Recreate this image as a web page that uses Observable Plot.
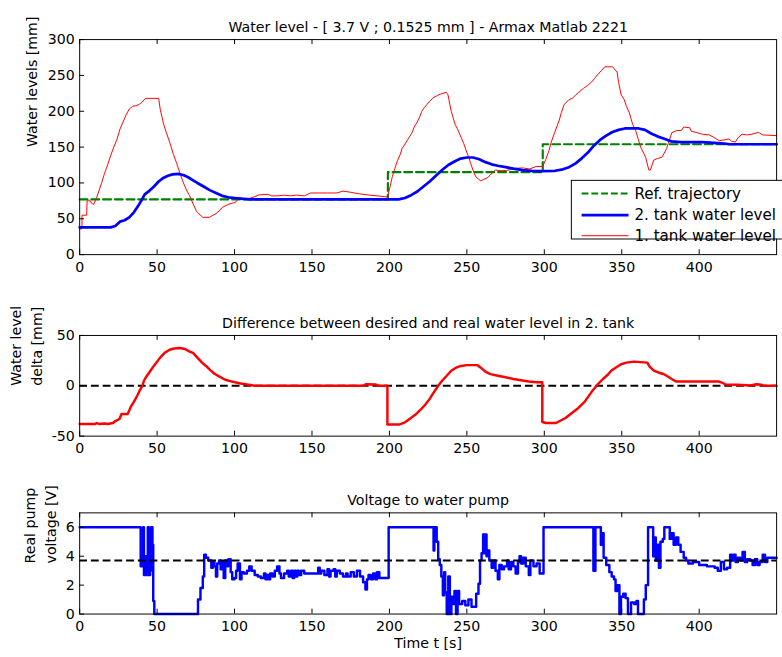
<!DOCTYPE html>
<html><head><meta charset="utf-8">
<script src="https://cdn.jsdelivr.net/npm/d3@7"></script>
<script src="https://cdn.jsdelivr.net/npm/@observablehq/plot@0.6"></script>
<style>
body{margin:0;background:#fff;}
#wrap{position:relative;width:782px;height:657px;overflow:hidden;background:#fff;}
#wrap svg{position:absolute;left:0;}
</style></head><body><div id="wrap"></div>
<script>
// ---------- data ----------
const xTicks = [0, 50, 100, 150, 200, 250, 300, 350, 400];
const levelTicks = [0, 50, 100, 150, 200, 250, 300];
const deltaTicks = [-50, 0, 50];
const voltTicks = [0, 2, 4, 6];

const titles = [
  "Water level - [ 3.7 V ; 0.1525 mm ] - Armax Matlab 2221",
  "Difference between desired and real water level in 2. tank",
  "Voltage to water pump"
];
const yLabels = ["Water levels [mm]", "Water level\ndelta [mm]", "Real pump\nvoltage [V]"];
const xLabel = "Time t [s]";
const legendLabels = ["Ref. trajectory", "2. tank water level", "1. tank water level"];

const refTrajectory = [[0, 77], [199, 115], [299, 154], [450, 154]];
const pumpRef = 3.7;

const tank2 = [[0,38],[20,38],[23,40],[26,46],[29,48],[32,52],[35,59],[37.5,67],[40,76],[42,84],[45,89],[48,95],[51,102],[54,107],[57,110],[60,112],[64,112.5],[67,111],[70,108],[73,104],[76,100],[80,95],[84,90],[88,86],[92,82],[96,80],[100,79],[104,78],[110,77],[199,77],[206,77],[210,79],[214,83],[218,88],[222,95],[226,102],[230,110],[234,118],[238,125],[242,130],[246,134],[250,135.5],[254,135.5],[258,133],[262,129],[266,126],[270,124],[275,122],[280,120],[286,118],[292,117],[298,116.5],[307,117],[312,119],[316,122],[320,127],[324,134],[328,142],[332,152],[336,160],[340,166],[344,171],[348,174],[352,176],[357,176],[361,176],[365,174],[369,169],[373,165],[377,162],[382,158],[388,157],[395,157],[402,157],[410,156],[416,155],[420,154],[450,154]];

const tank1 = [[0,36],[1.5,36],[1.5,55],[4.5,55],[4.8,75],[7,75],[7.5,72],[9,70],[11,80],[12,86],[14,99],[16,113],[18,125],[20,138],[22,150],[24,160],[26,175],[28,185],[30,195],[32,203],[34.2,207],[37,208],[39.4,211],[42.6,218],[51,218],[52,203],[54.2,182],[56,170],[58.4,155],[60.5,140],[62.7,127],[65,112],[67,100],[69,90],[71,82],[72,77],[73,72],[75.3,61],[77,57],[79.5,52],[83.7,52],[86,55],[88,57],[90,61],[92.2,66],[94,68],[96.4,70.5],[100.6,73],[102,77],[103.8,79.6],[106,78],[109,78],[112,80],[115.4,83],[119,84],[121.7,84],[124,82],[128,82],[132,83],[136,82],[140,83],[145,82],[149,86],[155,86],[160,86],[166,86],[170,88.6],[175,87],[180,85],[187,83],[192,82],[198.8,80.5],[200.2,93],[201.9,109],[203.5,120],[205,130],[207,140],[208.2,148],[211.4,159],[214.6,170],[216,178],[217.7,184],[219.5,192],[220.9,200],[222.5,205],[224,209],[226,214],[228.3,219],[231,222],[233,224],[236.7,226.5],[237.8,223],[239,210],[239.9,200],[242.4,182],[244,175],[246.2,164],[248,155],[249.4,146],[251,137],[252.5,127],[254.6,114],[256,108],[258.9,103],[261,105],[263.1,107],[265,111],[268.4,118],[272,117],[275.8,117.5],[279,119],[282,120.5],[286,121],[290.5,119.5],[294.7,123],[299,123],[301,133],[303,145],[304.5,157],[306.3,168],[308,178],[309.5,186.5],[311,198],[312.7,209],[315.8,216],[318,218],[320,222],[322,226],[325.3,232],[328,236],[330.6,241],[332.5,246],[334.8,252],[337,257],[339,262],[342,262],[344,262],[347,254.7],[348,240],[349.6,223],[351.7,216],[353,207],[354.9,198],[357,182],[359,173],[360.5,162],[362.2,150],[365.4,136],[367.5,118],[368.5,118],[370.7,132],[373,134],[376,136],[379,148],[380,155],[382.3,170],[385.4,173],[388.6,173.5],[390,178],[393.9,177],[395,172],[398,170.5],[402,168],[406.5,167],[410,163],[412.9,159],[416,160],[419.2,161.4],[421,158],[423.4,157],[425,163],[427.7,168],[431,167],[434,168],[438.2,170.5],[441,167],[450,166]];

const delta = [[0,-38],[10,-38],[11,-37],[13,-38],[16,-37.5],[18,-38],[21.5,-37],[23,-35],[25.7,-33],[27,-28],[31,-28],[33,-21],[35,-16],[37.3,-9.4],[39,-4],[40.5,0],[41.5,5],[43,9],[45.7,15],[48,20],[50,24],[52,28],[55,33],[58.4,36],[61,37],[64.7,37.5],[68,36.5],[71,34],[73.2,32.7],[76,28],[79,23],[81.6,19.7],[84,16],[87,12],[90,9.4],[94,6],[98.5,4.2],[103,2.5],[109,1],[113,0],[183,0],[185,1.6],[191,1.3],[193.5,0],[198.7,0],[198.7,-38.5],[206,-38.5],[208,-37.5],[210.3,-36],[213,-33],[216.7,-28.8],[220,-24],[223,-19],[226,-13],[228,-8],[231.5,0],[234,5],[237,10],[239.9,15],[243,18],[246.2,19.7],[250,20.5],[256.8,20.5],[259,18],[262,14],[265.2,11.6],[270,10],[275,8.5],[280,6.8],[285,5.5],[290,4.2],[294.7,3.6],[298.7,3.6],[298.7,-36],[301,-37],[307.4,-37],[310,-35],[313.7,-32],[317,-28],[322,-22],[326,-16],[330.6,-6],[334.8,2],[338,7],[341,11],[343.2,15],[346,18],[349.6,21.4],[353,23],[358,24],[362,23.5],[366.5,23],[368,19],[370.7,15],[374,13],[377,11.7],[380,9],[383,6],[385.4,4.2],[412.9,4.2],[415,3],[417,1.3],[425,1],[433,0.3],[437,1.5],[440,1],[442,0],[450,0]];

const voltage = [[0,6],[39.4,3.3],[40,4],[40.6,3.3],[41,6],[41.5,2.7],[42.5,4],[43,2.7],[44,6],[44.6,2.7],[45.5,3],[46,6],[47,4.8],[47.5,0.9],[48.2,0],
[76.4,1],[78,1.8],[79.5,2.6],[80.4,4.1],[81.5,3.9],[83,3.7],[85,3.2],[86,3.6],[87,3.3],[88,2.6],[88.8,3.5],[90,3.7],[91,3.1],[92,3.6],[93,2.5],[94,3.7],[95,3.3],[96,3.8],[97.5,2.9],[98.5,2.4],[100,2.5],[101,3.0],[102,3.5],[103.5,2.4],[104.5,2.9],[106,2.8],[108,3.0],[109.5,3.3],[111,3.0],[113,2.7],[115,2.6],[117,2.5],[119,2.8],[120,2.4],[121,2.7],[122,2.4],[123,2.8],[124.5,2.6],[126,3.0],[127.5,3.3],[129,2.8],[130,2.5],[132,2.8],[134,3.0],[135,2.6],[136.5,3.0],[137.5,2.5],[138.5,3.0],[139.5,2.6],[140.5,3.0],[141.5,2.7],[143,3.0],[145,2.8],[150,2.8],[154,3.2],[155,2.8],[156,3.0],[158,2.7],[160,3.1],[161,2.6],[162,3.0],[164,3.1],[165,2.6],[166,3.0],[168,2.8],[170,2.6],[172,2.8],[173,2.6],[175,2.9],[177,2.6],[179,3.0],[181,2.6],[183,2.2],[184.5,1.7],[185.5,2.4],[186.5,2.7],[188,2.4],[189.5,2.8],[191,2.4],[192,2.9],[193.5,2.5],[199.5,6],
[228.5,4.4],[229,6],[230.5,5],[231.5,3.8],[232.5,3.4],[233.5,2.6],[234.5,1.3],[235.3,2.9],[236,1.5],[237,0],[238,2.6],[239,0],[240,1.2],[241,0.7],[242,1.6],[243,0],[244,1.6],[245,0.7],[247,0.9],[249,0.6],[251,1.0],[253,0.5],[256,1.4],[257.5,2.1],[258.5,3.7],[259.5,4.2],[260.5,5.5],[261.5,4.2],[262,5.5],[262.7,4],[263.5,4.4],[264.5,3.7],[266,3.2],[267,3.7],[268.5,3.0],[270,2.4],[271,3.4],[272.5,3.1],[274,3.3],[276,3.7],[277,3.1],[278.5,3.6],[280,3.3],[281.5,2.8],[283,3.6],[284,4.0],[285,3.5],[286.5,3.9],[288,3.3],[290,2.7],[291,3.7],[293,3.3],[295,3.5],[297,2.8],[299.5,6],
[331.7,3.0],[333,6],[336.5,4.8],[337.5,5.6],[338.3,3.9],[340,3.4],[342,2.9],[343.5,2.6],[345,2.4],[346,1.6],[347,2.0],[348.5,0],[349.5,1.2],[351,1.4],[352.5,1.1],[354,0],[356,0.8],[358,0.7],[359.5,0.9],[360.5,0],[364.3,1.0],[365.5,2.0],[367,6],[369,6],[370.3,4.0],[371,5.3],[372,3.7],[372.8,4.8],[374,3.2],[375,5.0],[376.5,5.2],[377.5,6],[381,5.2],[382,5.6],[383.5,4.8],[385,5.3],[386.5,4.8],[388,4.3],[390,3.9],[391.5,3.7],[393,3.5],[396,3.6],[400,3.4],[405,3.3],[410,3.2],[412,3.0],[414,3.6],[416,3.1],[418,3.2],[420,4.1],[421,3.7],[422,4.1],[423.5,3.6],[425,3.9],[426.5,3.7],[428,4.3],[429.5,3.6],[431,3.8],[433,3.7],[434.5,3.4],[436,3.8],[437.5,3.4],[439,3.6],[441,4.1],[442.5,3.6],[444,3.9],[450,3.9]];

// ---------- layout ----------
const W = 800, ML = 81, MR = 6;
const FONT = '"DejaVu Sans", "Liberation Sans", Arial, sans-serif';
const FS = 14.5;
const wrap = document.getElementById("wrap");

function panel({top, height, marginTop, marginBottom, yDomain, yTicks, title, ylabel, ylabelDx, marks, extra = []}) {
  const plotH = height - marginTop - marginBottom;
  const plotW = W - ML - MR;
  const svg = Plot.plot({
    width: W, height, marginLeft: ML, marginRight: MR, marginTop, marginBottom,
    style: {fontFamily: FONT, fontSize: FS + "px", color: "black", background: "transparent", overflow: "visible"},
    x: {domain: [0, 450]},
    y: {domain: yDomain},
    marks: [
      ...marks,
      Plot.frame({stroke: "black", strokeWidth: 1}),
      Plot.tickX(xTicks, {x: d => d, insetTop: plotH - 5, stroke: "black"}),
      Plot.tickX(xTicks, {x: d => d, insetBottom: plotH - 5, stroke: "black"}),
      Plot.tickY(yTicks, {y: d => d, insetRight: plotW - 5, stroke: "black"}),
      Plot.axisX({ticks: xTicks, tickSize: 0, tickPadding: 7, label: null, tickFormat: d => String(d)}),
      Plot.axisY({ticks: yTicks, tickSize: 0, tickPadding: 5, label: null, tickFormat: d => String(d)}),
      Plot.text([title], {text: d => d, frameAnchor: "top", dy: -18, fill: "black"}),
      Plot.text([ylabel], {text: d => d, frameAnchor: "left", dx: ylabelDx, rotate: -90, lineHeight: 1.5, fill: "black"}),
      ...extra
    ]
  });
  svg.style.top = top + "px";
  wrap.appendChild(svg);
  return svg;
}

// Panel 1: water levels
const svg1 = panel({
  top: 0, height: 290, marginTop: 40, marginBottom: 30,
  yDomain: [0, 300], yTicks: levelTicks, title: titles[0], ylabel: yLabels[0], ylabelDx: -51,
  marks: [
    Plot.line(refTrajectory, {x: d => d[0], y: d => d[1], curve: "step-after", stroke: "#008000", strokeWidth: 2.2, strokeDasharray: "8,4"}),
    Plot.line(tank1, {x: d => d[0], y: d => d[1], stroke: "#ff0000", strokeWidth: 1}),
    Plot.line(tank2, {x: d => d[0], y: d => d[1], stroke: "#0000ff", strokeWidth: 2.8})
  ]
});

// legend
(function () {
  const g = d3.select(svg1).append("g").attr("font-family", FONT).attr("font-size", 15.5)
    .attr("text-anchor", "start");
  g.append("rect").attr("x", 584.5).attr("y", 184.5).attr("width", 260).attr("height", 60)
    .attr("fill", "white").attr("stroke", "black").attr("stroke-width", 1);
  const styles = [
    {stroke: "#008000", w: 2.2, dash: "7,3"},
    {stroke: "#0000ff", w: 2.8, dash: null},
    {stroke: "#ff3333", w: 1.2, dash: null}
  ];
  const ys = [198, 220, 241];
  legendLabels.forEach((lab, i) => {
    g.append("line").attr("x1", 595).attr("x2", 643).attr("y1", ys[i]).attr("y2", ys[i])
      .attr("stroke", styles[i].stroke).attr("stroke-width", styles[i].w)
      .attr("stroke-dasharray", styles[i].dash);
    g.append("text").attr("x", 649).attr("y", ys[i]).attr("dy", "0.35em").attr("fill", "black").text(lab);
  });
})();

// Panel 2: difference
panel({
  top: 290, height: 174, marginTop: 46, marginBottom: 25,
  yDomain: [-50, 50], yTicks: deltaTicks, title: titles[1], ylabel: yLabels[1], ylabelDx: -56,
  marks: [
    Plot.ruleY([0], {stroke: "black", strokeWidth: 2, strokeDasharray: "8,4"}),
    Plot.line(delta, {x: d => d[0], y: d => d[1], stroke: "#ff0000", strokeWidth: 2.5})
  ]
});

// Panel 3: voltage
panel({
  top: 464, height: 193, marginTop: 49.5, marginBottom: 40,
  yDomain: [0, 7], yTicks: voltTicks, title: titles[2], ylabel: yLabels[2], ylabelDx: -42,
  marks: [
    Plot.line(voltage, {x: d => d[0], y: d => d[1], curve: "step-after", stroke: "#0000ff", strokeWidth: 2.5}),
    Plot.ruleY([pumpRef], {stroke: "black", strokeWidth: 2, strokeDasharray: "8,4"})
  ],
  extra: [
    Plot.text([xLabel], {text: d => d, frameAnchor: "bottom", dy: 35, fill: "black"})
  ]
});
</script>
</body></html>
